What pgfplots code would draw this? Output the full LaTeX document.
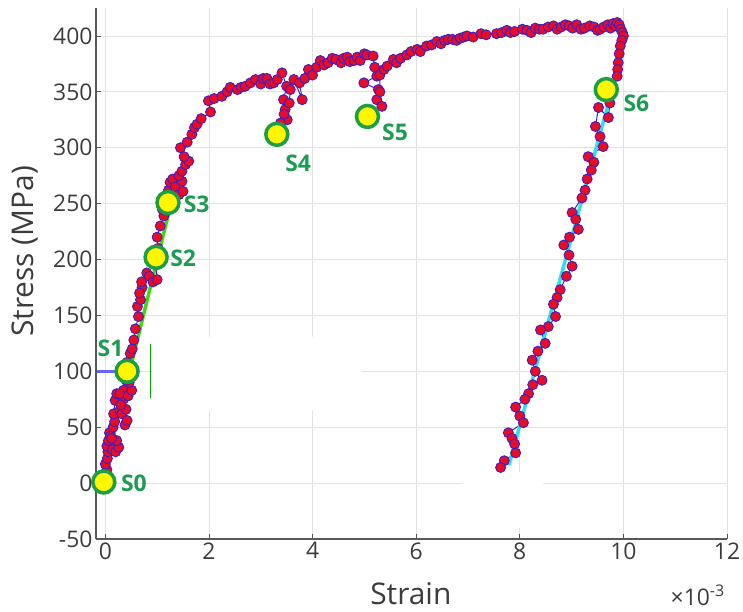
\documentclass[border=0pt]{standalone}
\usepackage{pgfplots}
\pgfplotsset{compat=1.18}
\usepackage{fontspec}
\setmainfont{Open Sans}

\definecolor{ptred}{RGB}{232,12,40}
\definecolor{ptedge}{RGB}{62,30,190}
\definecolor{sfill}{RGB}{255,246,0}
\definecolor{sedge}{RGB}{28,158,66}
\definecolor{slabel}{RGB}{28,155,82}
\definecolor{fitgreen}{RGB}{70,212,20}
\definecolor{fitcyan}{RGB}{52,222,232}
\definecolor{axgray}{RGB}{88,88,88}
\definecolor{txtgray}{RGB}{60,60,60}
\definecolor{gridgray}{RGB}{226,226,226}

\pgfplotsset{set layers}

\begin{document}
\begin{tikzpicture}
\begin{axis}[
  at={(0,0)}, anchor=south west,
  scale only axis, width=631bp, height=531bp,
  xmin=-0.18, xmax=12, ymin=-50, ymax=425,
  axis x line*=bottom, axis y line*=left,
  xtick={0,2,...,12}, ytick={-50,0,...,400},
  grid=major, major grid style={gridgray, line width=0.8bp},
  tick align=inside, major tick length=5bp,
  tick style={axgray, line width=0.8bp},
  axis line style={axgray, line width=1.2bp},
  /pgf/number format/assume math mode=true,
  ticklabel style={font=\fontsize{23}{23}\selectfont, text=txtgray},
  xlabel={Strain},
  xlabel style={at={(axis description cs:0.499,-0.124)}, anchor=base, inner sep=0pt,
    font=\fontsize{30}{30}\selectfont, text=txtgray},
  ylabel={Stress (MPa)},
  ylabel style={at={(axis description cs:-0.112,0.542)}, anchor=center, inner sep=0pt,
    font=\fontsize{30}{30}\selectfont, text=txtgray},
]

% blank patches where the grid is interrupted
\addplot[fill=white, draw=none, on layer=pre main] coordinates
  {(0.9,65) (4.95,65) (4.95,131) (0.9,131) (0.9,65)};
\addplot[fill=white, draw=none, on layer=pre main] coordinates
  {(6.9,-40) (8.45,-40) (8.45,10) (6.9,10) (6.9,-40)};

% measured stress-strain record
\addplot[ptedge, line width=1bp, mark=*, mark size=5bp,
  mark options={fill=ptred, draw=ptedge, line width=0.9bp}] coordinates {
 (0.00,0) (0.01,5) (0.03,12) (0.00,17) (0.04,22) (0.05,28) (0.03,33)
 (0.06,38) (0.08,45) (0.10,42) (0.14,30) (0.20,28) (0.26,32) (0.22,38)
 (0.12,40) (0.15,50) (0.18,55) (0.16,62) (0.19,74) (0.22,80) (0.28,65)
 (0.32,62) (0.38,52) (0.42,56) (0.40,66) (0.35,75) (0.35,83) (0.30,70)
 (0.28,80) (0.44,78) (0.51,83) (0.46,90) (0.40,92) (0.45,100) (0.42,108)
 (0.48,116) (0.52,120) (0.55,128) (0.58,138) (0.64,149) (0.62,158)
 (0.68,164) (0.71,175) (0.66,170) (0.70,180) (0.80,188) (0.85,185)
 (0.92,180) (1.00,182) (0.98,195) (0.95,205) (1.02,210) (1.00,220)
 (1.06,230) (1.13,239) (1.10,245) (1.15,250) (1.18,255) (1.22,262)
 (1.25,269) (1.30,272) (1.35,265) (1.42,258) (1.50,261) (1.48,270)
 (1.42,275) (1.48,279) (1.55,285) (1.61,288) (1.52,292) (1.45,300)
 (1.58,305) (1.67,312) (1.72,318) (1.77,321) (1.85,326) (2.03,332)
 (1.99,342) (2.10,344) (2.25,346) (2.35,350) (2.41,354) (2.55,352)
 (2.62,354) (2.70,355) (2.80,358) (2.90,361) (3.00,357) (3.05,362)
 (3.12,362) (3.18,357) (3.25,358) (3.32,361) (3.41,367) (3.50,355)
 (3.44,343) (3.47,334) (3.51,325) (3.38,322) (3.45,330) (3.55,340)
 (3.57,352) (3.64,361) (3.80,343) (3.75,358) (3.85,362) (3.92,370)
 (4.00,365) (4.08,372) (4.15,378) (4.22,374) (4.30,376) (4.38,380)
 (4.45,379) (4.55,376) (4.60,380) (4.67,381) (4.72,377) (4.80,378)
 (4.86,381) (4.92,378) (5.00,384) (5.05,383) (5.17,382) (5.20,372)
 (5.24,364) (4.99,358) (5.27,352) (5.24,343) (5.34,337) (5.30,350)
 (5.30,365) (5.38,370) (5.44,373) (5.56,379) (5.62,376) (5.70,380)
 (5.82,383) (5.90,386) (6.02,388) (6.08,386) (6.20,391) (6.30,392)
 (6.40,395) (6.48,393) (6.55,396) (6.62,397) (6.70,397) (6.78,396)
 (6.85,398) (6.92,399) (6.98,400) (7.10,399) (7.25,402) (7.35,401)
 (7.55,402) (7.65,403) (7.75,405) (7.82,403) (7.90,404) (8.05,406)
 (8.14,405) (8.22,403) (8.30,407) (8.38,406) (8.45,406) (8.55,408)
 (8.65,409) (8.72,406) (8.80,408) (8.88,410) (8.95,409) (9.02,407)
 (9.10,410) (9.18,406) (9.25,407) (9.35,409) (9.43,408) (9.50,405)
 (9.55,406) (9.62,408) (9.70,410) (9.75,407) (9.80,411) (9.85,409)
 (9.88,412) (9.92,410) (9.95,406) (9.98,403) (10.00,400) (9.97,396)
 (9.94,391) (9.92,384) (9.90,376) (9.89,370) (9.88,364) (9.80,352)
 (9.74,340) (9.71,327) (9.52,336) (9.46,319) (9.55,310) (9.61,301)
 (9.32,292) (9.43,287) (9.38,280) (9.30,272) (9.26,262) (9.20,255)
 (9.01,242) (9.08,236) (9.13,227) (8.96,220) (8.85,213) (8.95,204)
 (9.01,194) (8.90,185) (8.78,173) (8.72,166) (8.65,160) (8.69,149)
 (8.55,140) (8.40,137) (8.49,125) (8.35,118) (8.24,110) (8.30,100)
 (8.43,92) (8.25,88) (8.17,80) (8.10,75) (7.92,68) (8.00,60)
 (8.07,54) (7.78,45) (7.85,40) (7.90,35) (7.92,27) (7.70,20) (7.63,14)
};

% elastic loading and unloading fits
\addplot[fitgreen, line width=3.5bp] coordinates {(-0.03,7) (1.40,274.5)};
\addplot[fitcyan, line width=3.5bp] coordinates {(7.79,16) (9.98,385)};

% short reference strokes near S1
\addplot[blue!60!white, line width=2.5bp] coordinates {(-0.16,100) (0.2,100)};
\addplot[green!65!black, line width=0.6bp] coordinates {(0.87,76) (0.87,124)};

% selected states S0--S6
\addplot[only marks, mark=*, mark size=11bp,
  mark options={fill=sfill, draw=sedge, line width=3.5bp}] coordinates {
 (-0.03,1) (0.42,100) (0.98,202) (1.21,251) (3.31,312) (5.06,328) (9.67,352)
};

\begin{scope}[every node/.style={text=slabel, font=\fontsize{23}{23}\selectfont\bfseries, inner sep=0pt}]
\node[anchor=west] at (axis cs:0.30,0) {S0};
\node[anchor=center] at (axis cs:0.10,121) {S1};
\node[anchor=west] at (axis cs:1.25,201) {S2};
\node[anchor=west] at (axis cs:1.51,249) {S3};
\node[anchor=west] at (axis cs:3.47,286) {S4};
\node[anchor=west] at (axis cs:5.34,314) {S5};
\node[anchor=west] at (axis cs:10.00,340) {S6};
\end{scope}
\end{axis}
% exponent of the strain axis
\node[anchor=base east, text=txtgray, font=\fontsize{23}{23}\selectfont, inner sep=0pt]
  at (629bp,-66bp) {×10\textsuperscript{-3}};
\pgfresetboundingbox
\path[use as bounding box] (-96bp,-73bp) rectangle (647bp,539bp);
\end{tikzpicture}
\end{document}
